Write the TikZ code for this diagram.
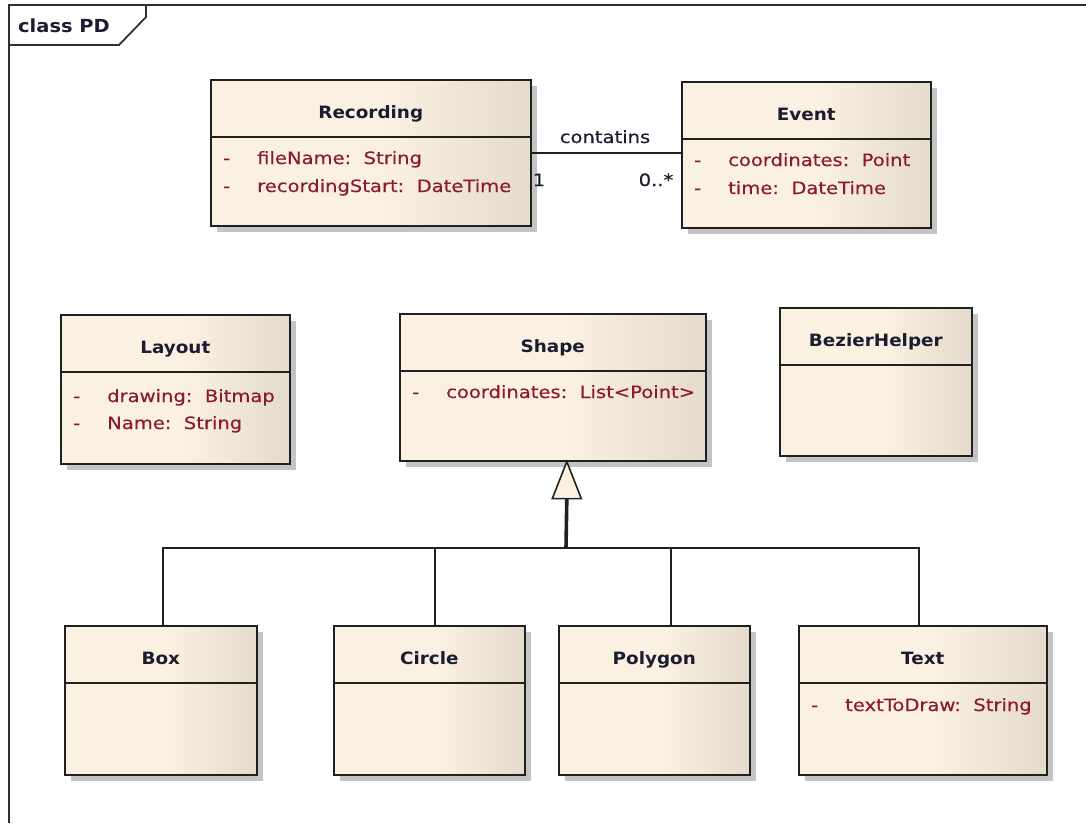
\documentclass[tikz,border=0pt]{standalone}
\usepackage{fontspec}
\setmainfont{DejaVu Sans}[FakeStretch=1.15, FakeBold=0.4]
\newfontfamily\titlefont{DejaVu Sans}[FakeStretch=1.08]
\usetikzlibrary{shadows}

\definecolor{fillL}{RGB}{251,241,227}
\definecolor{fillR}{RGB}{228,219,204}
\definecolor{boxline}{RGB}{32,32,32}
\definecolor{shadowcol}{RGB}{196,196,196}
\definecolor{titlecol}{RGB}{28,28,48}
\definecolor{attrcol}{RGB}{140,26,44}
\definecolor{framecol}{RGB}{48,48,48}

% cream fill that stays flat and darkens towards the right edge
\pgfdeclarehorizontalshading{classfill}{100bp}{color(0bp)=(fillL); color(25bp)=(fillL); color(52bp)=(fillL); color(75bp)=(fillR); color(100bp)=(fillR)}

\tikzset{
  classbox/.style={draw=boxline, line width=1.6pt, shading=classfill, anchor=north west, inner sep=0pt,
    drop shadow={shadow xshift=6pt, shadow yshift=-6pt, fill=shadowcol, opacity=1}},
  boxedge/.style={draw=boxline, line width=1.6pt},
  classtitle/.style={font=\titlefont\bfseries\fontsize{17}{20}\selectfont, text=titlecol, anchor=base, inner sep=0pt},
  attr/.style={font=\fontsize{17}{20}\selectfont, text=attrcol, anchor=base west, inner sep=0pt},
  label/.style={font=\fontsize{17}{20}\selectfont, text=titlecol, anchor=base, inner sep=0pt},
  conn/.style={draw=boxline, line width=1.6pt},
  thickconn/.style={draw=boxline, line width=3.6pt},
  frameline/.style={draw=framecol, line width=1.8pt},
}

% class box: name, left, top, right, bottom, title
\newcommand\umlclass[6]{%
  \node[classbox, minimum width={#4-#2}, minimum height={#5-#3}] (#1) at (#2,#3) {};
  \draw[boxedge] ([yshift=-58pt]#1.north west) -- ([yshift=-58pt]#1.north east);
  \node[classtitle] (#1-name) at ([yshift=-39pt]#1.north) {#6};
}
% attribute line: node name, class, baseline below top, text
\newcommand\umlattr[4]{%
  \node[attr] (#1-vis) at ([xshift=13pt,yshift=-#3pt]#2.north west) {-};
  \node[attr] (#1) at ([xshift=47pt,yshift=-#3pt]#2.north west) {#4};
}

\begin{document}
\begin{tikzpicture}[x=1pt,y=-1pt]
\useasboundingbox (0,0) rectangle (1086,823);

% diagram frame with its name tab
\draw[frameline] (9,823) -- (9,5) -- (1086,5);
\draw[frameline] (9,45) -- (119,45) -- (146,17) -- (146,5);
\node[font=\titlefont\bfseries\fontsize{18}{21}\selectfont, text=titlecol, anchor=base west, inner sep=0pt] (framename) at (18,32) {class PD};

% classes
\umlclass{rec}{210}{79}{530}{225}{Recording}
\umlattr{rec-a1}{rec}{85}{fileName:~~String}
\umlattr{rec-a2}{rec}{113}{recordingStart:~~DateTime}

\umlclass{evt}{681}{81}{930}{227}{Event}
\umlattr{evt-a1}{evt}{85}{coordinates:~~Point}
\umlattr{evt-a2}{evt}{113}{time:~~DateTime}

\umlclass{lay}{60}{314}{289}{463}{Layout}
\umlattr{lay-a1}{lay}{88}{drawing:~~Bitmap}
\umlattr{lay-a2}{lay}{115}{Name:~~String}

\umlclass{shp}{399}{313}{705}{460}{Shape}
\umlattr{shp-a1}{shp}{85}{coordinates:~~List<Point>}

\umlclass{bez}{779}{307}{971}{455}{BezierHelper}

\umlclass{box}{64}{625}{256}{774}{Box}
\umlclass{cir}{333}{625}{524}{774}{Circle}
\umlclass{pol}{558}{625}{749}{774}{Polygon}
\umlclass{txt}{798}{625}{1046}{774}{Text}
\umlattr{txt-a1}{txt}{86}{textToDraw:~~String}

% association Recording -- Event
\draw[conn] ([yshift=-74pt]rec.north east) -- ([yshift=-72pt]evt.north west);
\node[label] (assoc) at (605,143) {contatins};
\node[label] (mult1) at (539,186) {1};
\node[label] (mult2) at (656,186) {0..*};

% generalisation tree into Shape
\coordinate (apex) at ([xshift=14pt]shp.south);
\coordinate (bus) at (566,548);
\draw[thickconn] (bus) -- ([yshift=-37pt]apex);
\fill[fillL] (apex) -- ++(-13.5,35.5) -- ++(27,0) -- cycle;
\draw[conn, line join=miter] (apex) -- ++(-14.5,37) -- ++(29,0) -- cycle;
\draw[conn] ([xshift=2pt]box.north) |- (bus) -| ([xshift=-4pt]txt.north);
\draw[conn] ([xshift=5.5pt]cir.north) -- ++(0,-77);
\draw[conn] ([xshift=16.5pt]pol.north) -- ++(0,-77);
\end{tikzpicture}
\end{document}
